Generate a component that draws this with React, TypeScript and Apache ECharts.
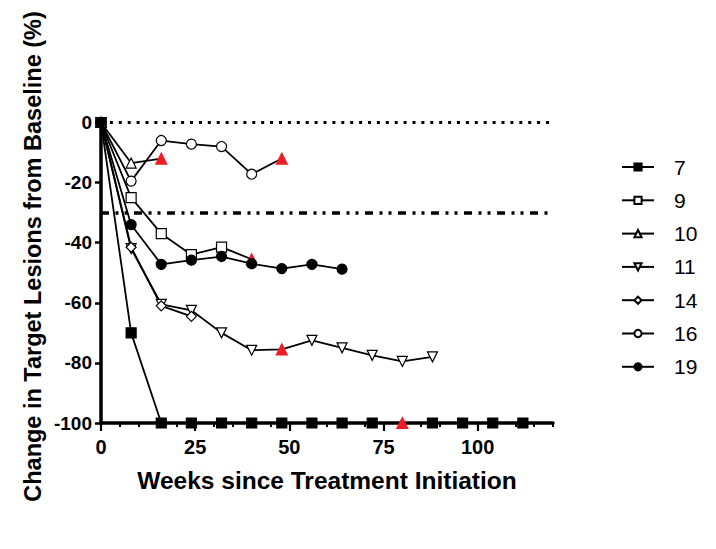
import React, { useEffect, useRef } from "react";
import * as echarts from "echarts";

// Patient series: [week, % change]
const p7: [number, number][] = [[0, 0], [8, -70], [16, -100], [24, -100], [32, -100], [40, -100], [48, -100], [56, -100], [64, -100], [72, -100], [80, -100], [88, -100], [96, -100], [104, -100], [112, -100]];
const p9: [number, number][] = [[0, 0], [8, -25], [16, -37], [24, -44], [32, -41.5], [40, -45.5]];
const p10: [number, number][] = [[0, 0], [8, -13.5], [16, -12]];
const p11: [number, number][] = [[0, 0], [8, -42], [16, -60.5], [24, -62.5], [32, -70], [40, -75.8], [48, -75.5], [56, -72.5], [64, -75], [72, -77.5], [80, -79.5], [88, -78]];
const p14: [number, number][] = [[0, 0], [8, -41.5], [16, -61], [24, -64.5]];
const p16: [number, number][] = [[0, 0], [8, -19.5], [16, -6], [24, -7.2], [32, -8], [40, -17.2], [48, -12]];
const p19: [number, number][] = [[0, 0], [8, -34], [16, -47.2], [24, -45.8], [32, -44.6], [40, -47], [48, -48.6], [56, -47.2], [64, -48.8]];

// Red triangle events: [patient, week]
const redEvents: [string, number][] = [["7", 80], ["9", 40], ["10", 16], ["11", 48], ["16", 48]];

// Reference levels
const refLevels = [0, -30];

// Axis ticks
const xMajorTicks = [0, 25, 50, 75, 100];
const yTicks = [0, -20, -40, -60, -80, -100];

const Y_TITLE = "Change in Target Lesions from Baseline (%)";
const FONT = "'Liberation Sans', Arial, sans-serif";
const RED = "#ee1c25";
const INV_TRI = "path://M0,0L20,0L10,17Z";

function mkSeries(name: string, pts: [number, number][], symbol: string, filled: boolean, size = 10): any {
  const reds = redEvents.filter((e) => e[0] === name).map((e) => e[1]);
  return {
    name,
    type: "line",
    symbol,
    symbolSize: size,
    showAllSymbol: true,
    lineStyle: { color: "#000", width: 1.8 },
    itemStyle: { color: filled ? "#000" : "#fff", borderColor: "#000", borderWidth: 1.2 },
    data: pts.map(([w, v]) =>
      reds.includes(w)
        ? { value: [w, v], symbol: "triangle", symbolSize: 11, itemStyle: { color: RED, borderColor: RED } }
        : [w, v]
    ),
    z: 3,
  };
}

export default function App() {
  const ref = useRef<HTMLDivElement>(null);
  useEffect(() => {
    document.body.style.margin = "0";
    const chart = echarts.init(ref.current!, undefined, { renderer: "svg" });
    const s7 = mkSeries("7", p7, "rect", true, 10);
    s7.markLine = {
      silent: true,
      symbol: ["none", "none"],
      label: { show: false },
      data: [
        { yAxis: refLevels[0], lineStyle: { color: "#000", width: 3.2, type: [3, 5.9] } },
        { yAxis: refLevels[1], lineStyle: { color: "#000", width: 3.5, type: [8, 6.5, 3, 6, 3, 6.5] } },
      ],
    };
    const option: any = {
      animation: false,
      backgroundColor: "#fff",
      grid: { left: 101, right: 163, top: 122.5, bottom: 126, containLabel: false },
      legend: {
        orient: "vertical",
        left: 616,
        top: 151,
        itemWidth: 32,
        itemHeight: 9,
        itemGap: 11.3,
        textStyle: { fontFamily: FONT, fontSize: 21, color: "#000", lineHeight: 22, padding: [0, 0, 0, 15] },
        data: ["7", "9", "10", "11", "14", "16", "19"],
      },
      xAxis: [
        {
          type: "value",
          min: 0,
          max: 120,
          interval: 5,
          position: "bottom",
          name: "Weeks since Treatment Initiation",
          nameLocation: "middle",
          nameGap: 45,
          nameTextStyle: { fontFamily: FONT, fontSize: 24.5, fontWeight: "bold", color: "#000" },
          axisLine: { show: true, onZero: false, lineStyle: { color: "#000", width: 3.5 } },
          axisTick: { show: true, length: 4, lineStyle: { color: "#000", width: 2 } },
          axisLabel: {
            customValues: xMajorTicks,
            margin: 14,
            fontFamily: FONT,
            fontSize: 20,
            fontWeight: "bold",
            color: "#000",
          },
          splitLine: { show: false },
        },
        {
          type: "value",
          min: 0,
          max: 120,
          position: "bottom",
          axisLine: { show: false, onZero: false },
          axisTick: { show: true, customValues: xMajorTicks, length: 8, lineStyle: { color: "#000", width: 2.2 } },
          axisLabel: { show: false },
          splitLine: { show: false },
        },
      ],
      yAxis: {
        type: "value",
        min: -100,
        max: 0,
        interval: 20,
        axisLine: { show: true, onZero: false, lineStyle: { color: "#000", width: 3.5 } },
        axisTick: { show: true, length: 6, lineStyle: { color: "#000", width: 2.5 } },
        axisLabel: {
          customValues: yTicks,
          margin: 9,
          fontFamily: FONT,
          fontSize: 19,
          fontWeight: "bold",
          color: "#000",
        },
        splitLine: { show: false },
      },
      graphic: [
        {
          type: "text",
          x: 33,
          y: 256.5,
          rotation: Math.PI / 2,
          style: {
            text: Y_TITLE,
            fontFamily: FONT,
            fontSize: 23.5,
            fontWeight: "bold",
            fill: "#000",
            align: "center",
            verticalAlign: "middle",
            width: 700,
            overflow: "none",
          },
        },
      ],
      series: [
        s7,
        mkSeries("9", p9, "rect", false, 10),
        mkSeries("10", p10, "triangle", false, 10),
        mkSeries("11", p11, INV_TRI, false, 10),
        mkSeries("14", p14, "diamond", false, 10),
        mkSeries("16", p16, "circle", false, 10),
        mkSeries("19", p19, "circle", true, 10),
      ],
    };
    chart.setOption(option);
    return () => chart.dispose();
  }, []);
  return <div ref={ref} style={{ position: "fixed", left: 0, top: 0, width: 716, height: 549 }} />;
}
